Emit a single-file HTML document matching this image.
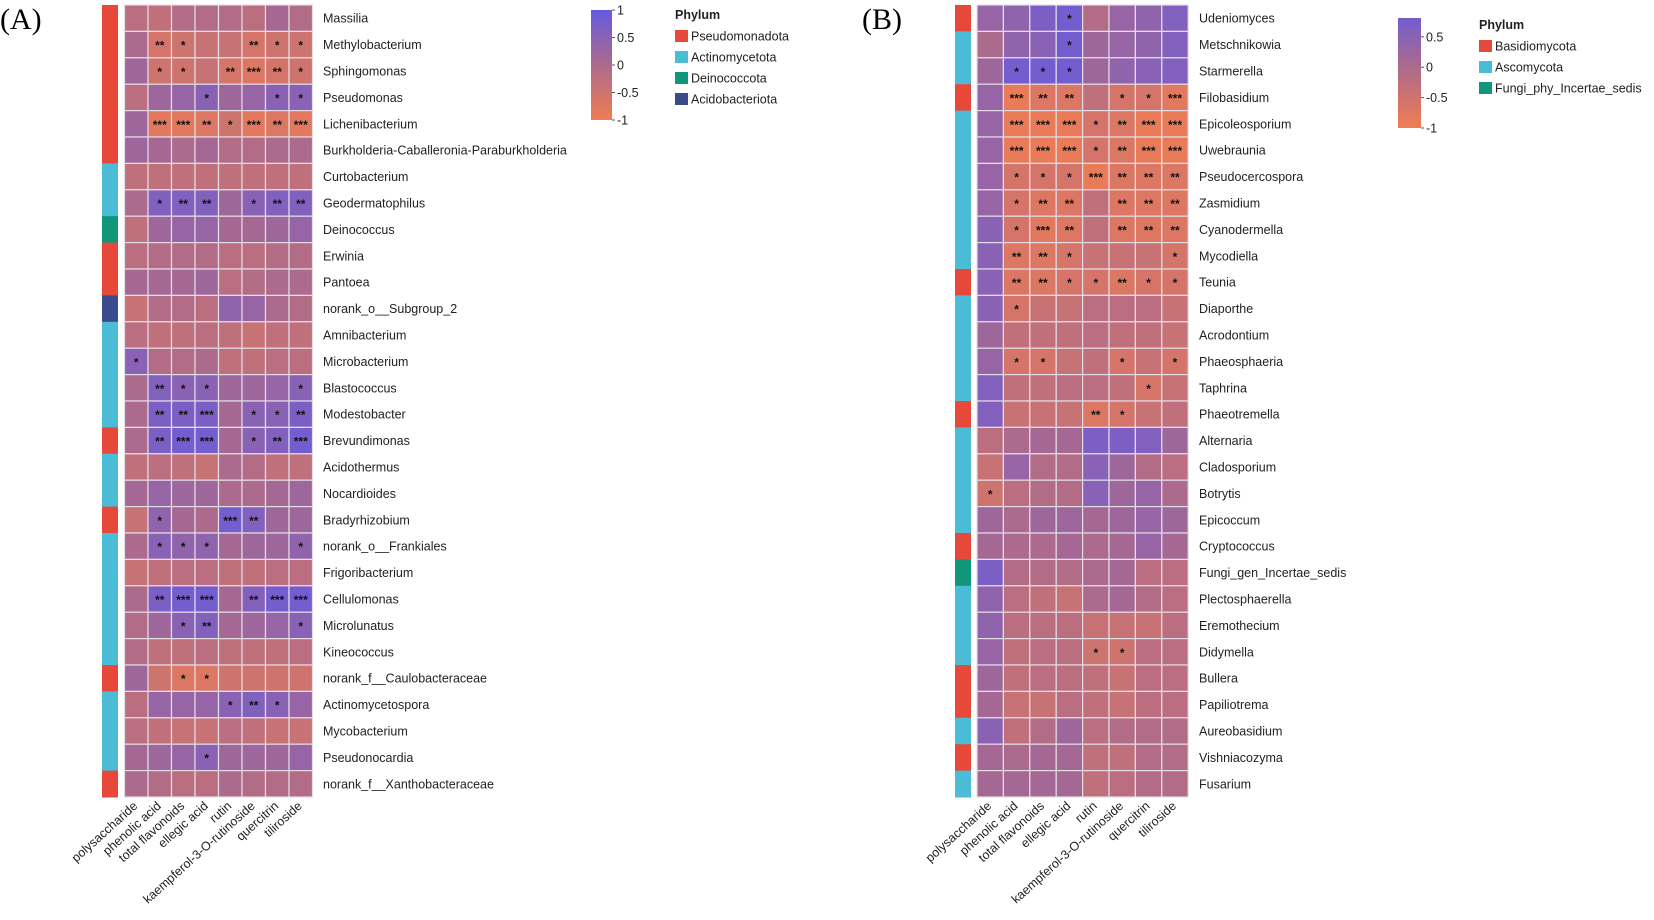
<!DOCTYPE html>
<html><head><meta charset="utf-8"><style>
html,body{margin:0;padding:0;background:#fff}
svg{display:block;font-family:"Liberation Sans",Arial,sans-serif}
</style></head><body>
<svg id="chart" width="1654" height="920" viewBox="0 0 1654 920" xmlns="http://www.w3.org/2000/svg">
<text x="0" y="29" font-family="Liberation Serif,serif" font-size="30">(A)</text>
<text x="862" y="29" font-family="Liberation Serif,serif" font-size="30">(B)</text>
<g id="gA"></g><g id="gB"></g>
</svg>
<script>
const metabolites = ["polysaccharide","phenolic acid","total flavonoids","ellegic acid","rutin","kaempferol-3-O-rutinoside","quercitrin","tiliroside"];
const generaA = ["Massilia","Methylobacterium","Sphingomonas","Pseudomonas","Lichenibacterium","Burkholderia-Caballeronia-Paraburkholderia","Curtobacterium","Geodermatophilus","Deinococcus","Erwinia","Pantoea","norank_o__Subgroup_2","Amnibacterium","Microbacterium","Blastococcus","Modestobacter","Brevundimonas","Acidothermus","Nocardioides","Bradyrhizobium","norank_o__Frankiales","Frigoribacterium","Cellulomonas","Microlunatus","Kineococcus","norank_f__Caulobacteraceae","Actinomycetospora","Mycobacterium","Pseudonocardia","norank_f__Xanthobacteraceae"];
const phylumA = [0,0,0,0,0,0,1,1,2,0,0,3,1,1,1,1,0,1,1,0,1,1,1,1,1,0,1,1,1,0];
const phylumNamesA = ["Pseudomonadota","Actinomycetota","Deinococcota","Acidobacteriota"];
const valuesA = [
[-0.2,-0.3,-0.1,-0.1,-0.1,-0.2,0.1,-0.1],
[0,-0.6,-0.5,-0.4,-0.4,-0.6,-0.5,-0.5],
[0.2,-0.5,-0.5,-0.4,-0.6,-0.7,-0.6,-0.5],
[-0.2,0.2,0.3,0.5,0.2,0.3,0.5,0.5],
[0.2,-0.8,-0.8,-0.7,-0.5,-0.8,-0.7,-0.8],
[0.2,0.1,0,0.1,-0.1,-0.1,0,0],
[-0.3,-0.3,-0.3,-0.3,-0.3,-0.3,-0.3,-0.3],
[0,0.6,0.6,0.6,0.2,0.5,0.6,0.6],
[-0.3,0.2,0.3,0.3,0.1,0.1,0.2,0.3],
[-0.2,-0.1,-0.1,-0.1,-0.2,-0.2,-0.1,-0.1],
[0.1,0.1,0.1,0.2,-0.2,-0.1,0,0],
[-0.4,-0.1,-0.1,-0.2,0.4,0.3,0,-0.1],
[-0.2,-0.3,-0.3,-0.2,-0.3,-0.4,-0.3,-0.3],
[0.5,-0.1,-0.1,0,-0.3,-0.3,-0.2,-0.2],
[0,0.6,0.5,0.5,0.2,0.2,0.3,0.5],
[0,0.7,0.7,0.7,0.1,0.5,0.5,0.7],
[0,0.7,0.8,0.8,0.1,0.5,0.6,0.8],
[-0.3,-0.2,-0.3,-0.4,0,-0.1,-0.3,-0.3],
[0.1,0.3,0.2,0.2,0,0,0.1,0.2],
[-0.4,0.4,0.1,0,0.8,0.6,0.2,0.2],
[0,0.5,0.4,0.4,0.1,0.2,0.2,0.4],
[-0.4,-0.3,-0.2,-0.2,-0.3,-0.3,-0.2,-0.2],
[0,0.7,0.8,0.8,0.1,0.6,0.8,0.8],
[-0.1,0.2,0.5,0.6,0.1,0.2,0.3,0.5],
[-0.1,-0.3,-0.3,-0.2,-0.3,-0.3,-0.3,-0.2],
[0.2,-0.5,-0.7,-0.7,-0.5,-0.5,-0.5,-0.5],
[-0.2,0.3,0.3,0.3,0.5,0.6,0.5,0.3],
[-0.2,-0.3,-0.4,-0.4,-0.2,-0.3,-0.4,-0.4],
[0.1,0.2,0.3,0.5,0.2,0.2,0.2,0.3],
[0,-0.1,-0.2,-0.2,0,-0.1,-0.1,-0.1]];
const starsA = [
["","","","","","","",""],
["","**","*","","","**","*","*"],
["","*","*","","**","***","**","*"],
["","","","*","","","*","*"],
["","***","***","**","*","***","**","***"],
["","","","","","","",""],
["","","","","","","",""],
["","*","**","**","","*","**","**"],
["","","","","","","",""],
["","","","","","","",""],
["","","","","","","",""],
["","","","","","","",""],
["","","","","","","",""],
["*","","","","","","",""],
["","**","*","*","","","","*"],
["","**","**","***","","*","*","**"],
["","**","***","***","","*","**","***"],
["","","","","","","",""],
["","","","","","","",""],
["","*","","","***","**","",""],
["","*","*","*","","","","*"],
["","","","","","","",""],
["","**","***","***","","**","***","***"],
["","","*","**","","","","*"],
["","","","","","","",""],
["","","*","*","","","",""],
["","","","","*","**","*",""],
["","","","","","","",""],
["","","","*","","","",""],
["","","","","","","",""]];
const generaB = ["Udeniomyces","Metschnikowia","Starmerella","Filobasidium","Epicoleosporium","Uwebraunia","Pseudocercospora","Zasmidium","Cyanodermella","Mycodiella","Teunia","Diaporthe","Acrodontium","Phaeosphaeria","Taphrina","Phaeotremella","Alternaria","Cladosporium","Botrytis","Epicoccum","Cryptococcus","Fungi_gen_Incertae_sedis","Plectosphaerella","Eremothecium","Didymella","Bullera","Papiliotrema","Aureobasidium","Vishniacozyma","Fusarium"];
const phylumB = [0,1,1,0,1,1,1,1,1,1,0,1,1,1,1,0,1,1,1,1,0,2,1,1,1,0,0,1,0,1];
const phylumNamesB = ["Basidiomycota","Ascomycota","Fungi_phy_Incertae_sedis"];
const valuesB = [
[0.3,0.4,0.7,0.8,-0.1,0.3,0.4,0.6],
[0,0.4,0.5,0.8,0.2,0.3,0.4,0.6],
[0.2,0.8,0.8,0.8,0.2,0.4,0.5,0.6],
[0.3,-0.9,-0.7,-0.7,-0.3,-0.6,-0.6,-0.8],
[0.3,-0.9,-0.9,-0.9,-0.6,-0.7,-0.9,-0.9],
[0.3,-0.9,-0.9,-0.9,-0.6,-0.7,-0.9,-0.9],
[0.3,-0.6,-0.6,-0.6,-0.9,-0.7,-0.7,-0.7],
[0.3,-0.6,-0.7,-0.7,-0.3,-0.7,-0.7,-0.7],
[0.5,-0.6,-0.8,-0.7,-0.3,-0.7,-0.7,-0.7],
[0.5,-0.7,-0.7,-0.6,-0.4,-0.4,-0.4,-0.6],
[0.5,-0.7,-0.7,-0.6,-0.6,-0.7,-0.6,-0.6],
[0.5,-0.6,-0.4,-0.4,-0.2,-0.2,-0.2,-0.4],
[0.2,-0.3,-0.3,-0.3,-0.2,-0.3,-0.3,-0.4],
[0.3,-0.6,-0.6,-0.4,-0.3,-0.6,-0.4,-0.6],
[0.6,-0.3,-0.3,-0.2,-0.2,-0.3,-0.6,-0.4],
[0.6,-0.4,-0.4,-0.4,-0.7,-0.6,-0.4,-0.3],
[-0.2,0,0.1,0.1,0.7,0.7,0.6,0.2],
[-0.4,0.3,-0.1,-0.1,0.5,0.2,-0.1,-0.2],
[-0.5,-0.2,-0.1,-0.1,0.5,0.2,0.3,0],
[0.2,0,0.2,0.2,0.1,0.2,0.3,0.2],
[0.1,0,0,0.1,0,0.1,0.3,0.1],
[0.7,-0.1,-0.1,-0.1,0,0.1,-0.2,-0.2],
[0.4,-0.2,-0.3,-0.4,0,0.1,-0.1,-0.2],
[0.4,-0.2,-0.2,-0.2,-0.4,-0.4,-0.4,-0.2],
[0.3,-0.3,-0.2,-0.2,-0.5,-0.5,-0.2,-0.2],
[0.2,-0.3,-0.2,-0.2,-0.3,-0.4,-0.2,-0.2],
[0.1,-0.4,-0.4,-0.2,-0.3,-0.4,-0.2,-0.2],
[0.5,-0.3,-0.1,0.2,-0.2,-0.1,-0.1,-0.1],
[0.1,0,0.1,0.1,-0.3,-0.3,-0.1,-0.1],
[0.1,0.1,0.1,0.1,-0.3,-0.2,-0.1,-0.1]];
const starsB = [
["","","","*","","","",""],
["","","","*","","","",""],
["","*","*","*","","","",""],
["","***","**","**","","*","*","***"],
["","***","***","***","*","**","***","***"],
["","***","***","***","*","**","***","***"],
["","*","*","*","***","**","**","**"],
["","*","**","**","","**","**","**"],
["","*","***","**","","**","**","**"],
["","**","**","*","","","","*"],
["","**","**","*","*","**","*","*"],
["","*","","","","","",""],
["","","","","","","",""],
["","*","*","","","*","","*"],
["","","","","","","*",""],
["","","","","**","*","",""],
["","","","","","","",""],
["","","","","","","",""],
["*","","","","","","",""],
["","","","","","","",""],
["","","","","","","",""],
["","","","","","","",""],
["","","","","","","",""],
["","","","","","","",""],
["","","","","*","*","",""],
["","","","","","","",""],
["","","","","","","",""],
["","","","","","","",""],
["","","","","","","",""],
["","","","","","","",""]];
const ticksA = [1,0.5,0,-0.5,-1];
const ticksB = [0.5,0,-0.5,-1];

const NS = "http://www.w3.org/2000/svg";
const phylumColors = ["#e8483a","#4bbcd6","#12967a","#3a4a8c"];
function mk(tag, attrs, parent){const e=document.createElementNS(NS,tag);for(const k in attrs)e.setAttribute(k,attrs[k]);parent.appendChild(e);return e;}
function lerp(a,b,t){return Math.round(a+(b-a)*t);}
function color(v){
  const neg=[240,125,82], mid=[172,106,140], pos=[102,90,222];
  v=Math.max(-1,Math.min(1,v));
  let c = v<0 ? neg.map((x,i)=>lerp(mid[i],x,-v)) : mid.map((x,i)=>lerp(x,pos[i],v));
  return "rgb("+c.join(",")+")";
}
function panel(g, cfg){
  const {x0,y0,cw,rh,genera,phylum,values,stars,sideX,sideW,labelX} = cfg;
  const xs = j => x0 + j*cw;
  const ys = i => y0 + i*rh;
  genera.forEach((name,i)=>{
    const s = mk("rect",{x:sideX,y:ys(i),width:sideW,height:rh+0.5,fill:phylumColors[phylum[i]]},g);
    
    
    values[i].forEach((v,j)=>{
      const r = mk("rect",{x:xs(j),y:ys(i),width:cw,height:rh,fill:color(v),stroke:"#e4dde6","stroke-width":1.2},g);
      
      
      if(stars[i][j]){
        const t = mk("text",{x:xs(j)+cw/2,y:ys(i)+rh/2+5,"text-anchor":"middle","font-size":12,"font-weight":"bold",fill:"#111"},g);
        t.textContent = stars[i][j];
        
        
      }
    });
    const l = mk("text",{x:labelX,y:ys(i)+rh/2+4.5,"font-size":12.5,fill:"#222"},g);
    l.textContent = name;
    
    
  });
  const yb = ys(genera.length);
  metabolites.forEach((m,j)=>{
    const cx = xs(j)+cw/2+2, cy = yb+10;
    const t = mk("text",{x:cx,y:cy,"text-anchor":"end","font-size":12.5,fill:"#222",transform:"rotate(-42 "+cx+" "+cy+")"},g);
    t.textContent = m;
    
    
  });
}
function colorbar(g, cfg){
  const {x,y,w,h,vmax,ticks,id} = cfg;
  const vy = v => y + (vmax - v)/(vmax + 1)*h;
  const defs = mk("defs",{},g);
  const lg = mk("linearGradient",{id:id,x1:0,y1:0,x2:0,y2:1},defs);
  for(let k=0;k<=10;k++){const v=vmax-(vmax+1)*k/10;mk("stop",{offset:(k*10)+"%","stop-color":color(v)},lg);}
  const r = mk("rect",{x:x,y:y,width:w,height:h,fill:"url(#"+id+")"},g);
  
  
  ticks.forEach(t=>{
    mk("line",{x1:x+w,x2:x+w+3,y1:vy(t),y2:vy(t),stroke:"#555"},g);
    const tx = mk("text",{x:x+w+5,y:vy(t)+4.5,"font-size":12.5,fill:"#222"},g);
    tx.textContent = t;
    
    
  });
}
function legend(g, cfg){
  const {x,y,names} = cfg;
  const h = mk("text",{x:x,y:y,"font-size":12.5,"font-weight":"bold",fill:"#222"},g);
  h.textContent = "Phylum";
  
  
  names.forEach((n,i)=>{
    const yy = y + 11 + i*21;
    const b = mk("rect",{x:x,y:yy,width:13,height:12,fill:phylumColors[i]},g);
    
    
    const t = mk("text",{x:x+16,y:yy+10.5,"font-size":12.5,fill:"#222"},g);
    t.textContent = n;
    
    
  });
}
const gA = document.getElementById("gA"), gB = document.getElementById("gB");




panel(gA,{x0:124.5,y0:5,cw:23.5,rh:26.4,genera:generaA,phylum:phylumA,values:valuesA,stars:starsA,sideX:102,sideW:16,labelX:323});
panel(gB,{x0:977,y0:5,cw:26.4,rh:26.4,genera:generaB,phylum:phylumB,values:valuesB,stars:starsB,sideX:955,sideW:16,labelX:1199});
colorbar(gA,{x:591,y:10,w:21,h:110,vmax:1,ticks:ticksA,id:"cbA"});
colorbar(gB,{x:1398,y:18,w:23,h:110,vmax:0.81,ticks:ticksB,id:"cbB"});
legend(gA,{x:675,y:19,names:phylumNamesA});
legend(gB,{x:1479,y:29,names:phylumNamesB});
</script>
</body></html>
